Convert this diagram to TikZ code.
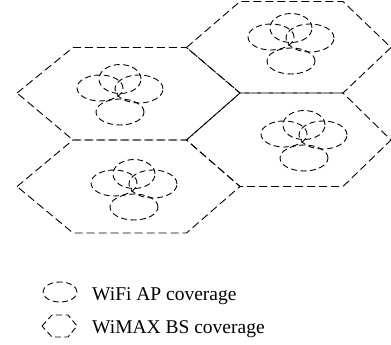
\documentclass[tikz,border=0pt]{standalone}
\usepackage{fontspec}
\setmainfont{Liberation Serif}
\usepackage{tikz}
\tikzstyle{cellhex} = [draw, line width=0.9pt, dash pattern=on 8pt off 4pt, line join=miter]
\tikzstyle{apcov} = [draw, line width=0.9pt, dash pattern=on 6pt off 3.5pt]
\tikzstyle{legendtext} = [anchor=base west, inner sep=0pt, font={\fontsize{19.5pt}{24pt}\selectfont}]
% four WiFi AP coverage areas round one point
\newcommand{\apcluster}[1]{%
  \draw [apcov] ([shift={(0,-10)}]#1) ellipse [x radius=21pt, y radius=14.5pt];
  \draw [apcov] ([shift={(-20,-1)}]#1) ellipse [x radius=23pt, y radius=13pt];
  \draw [apcov] ([shift={(19,0)}]#1) ellipse [x radius=24pt, y radius=14pt];
  \draw [apcov] ([shift={(0,23)}]#1) ellipse [x radius=24pt, y radius=13pt];
}

\begin{document}
\begin{tikzpicture}[x=1pt, y=-1pt]
    \useasboundingbox (0,0) rectangle (391,345);

    % WiMAX BS cells
    \draw [cellhex] (186.5,47.5) -- (240,1.5) -- (343,1.5) -- (391,47.5) -- (343,93) -- (240,93) -- cycle;
    \draw [cellhex] (186.5,140) -- (240,93) -- (343,93) -- (391,140) -- (343,186.5) -- (240,186.5) -- cycle;
    \draw [cellhex] (17,93) -- (73,47.5) -- (186.5,47.5) -- (240,93) -- (186.5,140) -- (73,140) -- cycle;
    \draw [cellhex] (17,186.5) -- (73,140) -- (186.5,140) -- (240,186.5) -- (186.5,233) -- (73,233) -- cycle;

    % WiFi APs
    \coordinate (tl) at (120,89);
    \coordinate (tr) at (291,38);
    \coordinate (br) at (304,135);
    \coordinate (bl) at (134,184);
    \apcluster{tl}
    \apcluster{tr}
    \apcluster{br}
    \apcluster{bl}

    % Legend
    \coordinate (wifikey) at (60,292);
    \draw [apcov] (wifikey) ellipse [x radius=17pt, y radius=10pt];
    \node [legendtext] (wifi) at (92,300) {WiFi AP coverage};
    \coordinate (wimaxkey) at (60,326);
    \draw [cellhex, dash pattern=on 6pt off 3.5pt] (42,326) -- (52,315) -- (68,315) -- (77,326) -- (68,337) -- (52,337) -- cycle;
    \node [legendtext] (wimax) at (92,333) {WiMAX BS coverage};
\end{tikzpicture}
\end{document}
